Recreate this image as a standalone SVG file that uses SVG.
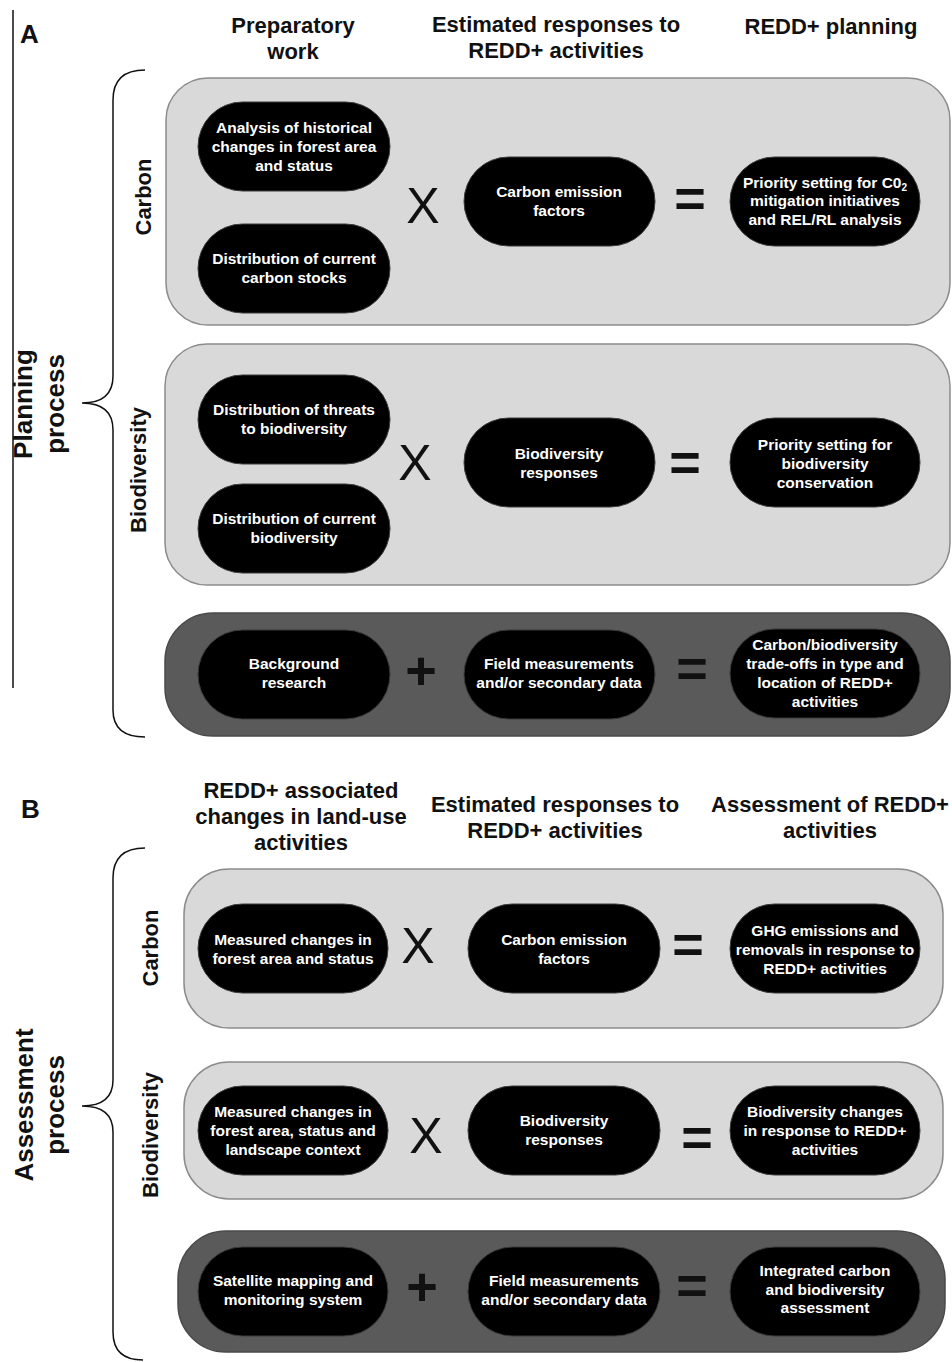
<svg xmlns="http://www.w3.org/2000/svg" width="952" height="1362" viewBox="0 0 952 1362">
<style>
.hdr{font-family:"Liberation Sans",Arial,sans-serif;font-weight:bold;font-size:22px;fill:#111;text-anchor:middle}
.lbl{font-family:"Liberation Sans",Arial,sans-serif;font-weight:bold;font-size:26px;fill:#111}
.side{font-family:"Liberation Sans",Arial,sans-serif;font-weight:bold;font-size:22px;fill:#111;text-anchor:middle}
.proc{font-family:"Liberation Sans",Arial,sans-serif;font-weight:bold;font-size:26px;fill:#111;text-anchor:middle}
.light{fill:#d9d9d9;stroke:#8c8c8c;stroke-width:1.5}
.dark{fill:#5a5a5a;stroke:#4a4a4a;stroke-width:1.5}
.pill{fill:#000;stroke:#3a3a3a;stroke-width:1}
.pt{font-family:"Liberation Sans",Arial,sans-serif;font-weight:bold;font-size:15.5px;fill:#fff;text-anchor:middle}
.op{font-family:"Liberation Sans",Arial,sans-serif;font-size:50px;fill:#111;text-anchor:middle}
.opb{font-family:"Liberation Sans",Arial,sans-serif;font-weight:bold;font-size:54px;fill:#111;text-anchor:middle}
.brace{fill:none;stroke:#111;stroke-width:1.5}
</style>

<!-- ===== Part A ===== -->
<g id="partA-labels">
  <line x1="13" y1="10" x2="13" y2="688" stroke="#111" stroke-width="1.5"/>
  <text class="lbl" x="20" y="43">A</text>
  <text class="hdr" x="293" y="33">Preparatory</text>
  <text class="hdr" x="293" y="59">work</text>
  <text class="hdr" x="556" y="32">Estimated responses to</text>
  <text class="hdr" x="556" y="58">REDD+ activities</text>
  <text class="hdr" x="831" y="34">REDD+ planning</text>
  <text class="proc" transform="translate(32,404) rotate(-90)">Planning</text>
  <text class="proc" transform="translate(64,404) rotate(-90)">process</text>
</g>

<g id="braces">
  <path class="brace" d="M145,70 Q113,70 113,100 L113,376 Q113,403 82,403 Q113,403 113,430 L113,710 Q113,737 145,737"/>
  <path class="brace" d="M145,848 Q113,848 113,878 L113,1080 Q113,1106 82,1106 Q113,1106 113,1132 L113,1332 Q113,1360 143,1360"/>
</g>

<g id="panelA-carbon">
  <rect class="light" x="166" y="78" width="784" height="247" rx="42"/>
  <text class="side" transform="translate(151,197) rotate(-90)">Carbon</text>
</g>
<g id="A-carbon-analysis">
  <rect class="pill" x="198" y="102" width="192" height="89" rx="44.5"/>
  <text class="pt" x="294" y="133">Analysis of historical</text>
  <text class="pt" x="294" y="152">changes in forest area</text>
  <text class="pt" x="294" y="171">and status</text>
</g>
<g id="A-carbon-stocks">
  <rect class="pill" x="198" y="224" width="192" height="89" rx="44.5"/>
  <text class="pt" x="294" y="264">Distribution of current</text>
  <text class="pt" x="294" y="283">carbon stocks</text>
</g>
<g id="A-carbon-factors">
  <rect class="pill" x="464" y="157" width="191" height="89" rx="44.5"/>
  <text class="pt" x="559" y="197">Carbon emission</text>
  <text class="pt" x="559" y="216">factors</text>
</g>
<g id="A-carbon-priority">
  <rect class="pill" x="730" y="157" width="190" height="89" rx="44.5"/>
  <text class="pt" x="825" y="188">Priority setting for C0<tspan font-size="10px" dy="3">2</tspan></text>
  <text class="pt" x="825" y="206">mitigation initiatives</text>
  <text class="pt" x="825" y="225">and REL/RL analysis</text>
</g>

<g id="panelA-biodiversity">
  <rect class="light" x="165" y="344" width="785" height="241" rx="42"/>
  <text class="side" transform="translate(146,470) rotate(-90)">Biodiversity</text>
</g>
<g id="A-bio-threats">
  <rect class="pill" x="198" y="375" width="192" height="89" rx="44.5"/>
  <text class="pt" x="294" y="415">Distribution of threats</text>
  <text class="pt" x="294" y="434">to biodiversity</text>
</g>
<g id="A-bio-current">
  <rect class="pill" x="198" y="484" width="192" height="89" rx="44.5"/>
  <text class="pt" x="294" y="524">Distribution of current</text>
  <text class="pt" x="294" y="543">biodiversity</text>
</g>
<g id="A-bio-responses">
  <rect class="pill" x="464" y="418" width="191" height="89" rx="44.5"/>
  <text class="pt" x="559" y="459">Biodiversity</text>
  <text class="pt" x="559" y="478">responses</text>
</g>
<g id="A-bio-priority">
  <rect class="pill" x="730" y="418" width="190" height="89" rx="44.5"/>
  <text class="pt" x="825" y="450">Priority setting for</text>
  <text class="pt" x="825" y="469">biodiversity</text>
  <text class="pt" x="825" y="488">conservation</text>
</g>

<g id="panelA-integration">
  <rect class="dark" x="165" y="613" width="785" height="123" rx="48"/>
</g>
<g id="A-background">
  <rect class="pill" x="198" y="630" width="192" height="89" rx="44.5"/>
  <text class="pt" x="294" y="669">Background</text>
  <text class="pt" x="294" y="688">research</text>
</g>
<g id="A-field">
  <rect class="pill" x="464" y="630" width="191" height="89" rx="44.5"/>
  <text class="pt" x="559" y="669">Field measurements</text>
  <text class="pt" x="559" y="688">and/or secondary data</text>
</g>
<g id="A-tradeoffs">
  <rect class="pill" x="730" y="629" width="190" height="89" rx="44.5"/>
  <text class="pt" x="825" y="650">Carbon/biodiversity</text>
  <text class="pt" x="825" y="669">trade-offs in type and</text>
  <text class="pt" x="825" y="688">location of REDD+</text>
  <text class="pt" x="825" y="707">activities</text>
</g>

<!-- ===== Part B ===== -->
<g id="partB-labels">
  <text class="lbl" x="21" y="818">B</text>
  <text class="hdr" x="301" y="798">REDD+ associated</text>
  <text class="hdr" x="301" y="824">changes in land-use</text>
  <text class="hdr" x="301" y="850">activities</text>
  <text class="hdr" x="555" y="812">Estimated responses to</text>
  <text class="hdr" x="555" y="838">REDD+ activities</text>
  <text class="hdr" x="830" y="812">Assessment of REDD+</text>
  <text class="hdr" x="830" y="838">activities</text>
  <text class="proc" transform="translate(33,1105) rotate(-90)">Assessment</text>
  <text class="proc" transform="translate(64,1105) rotate(-90)">process</text>
</g>

<g id="panelB-carbon">
  <rect class="light" x="184" y="869" width="759" height="159" rx="45"/>
  <text class="side" transform="translate(158,948) rotate(-90)">Carbon</text>
</g>
<g id="B-carbon-measured">
  <rect class="pill" x="198" y="904" width="190" height="89" rx="44.5"/>
  <text class="pt" x="293" y="945">Measured changes in</text>
  <text class="pt" x="293" y="964">forest area and status</text>
</g>
<g id="B-carbon-factors">
  <rect class="pill" x="468" y="904" width="192" height="89" rx="44.5"/>
  <text class="pt" x="564" y="945">Carbon emission</text>
  <text class="pt" x="564" y="964">factors</text>
</g>
<g id="B-carbon-ghg">
  <rect class="pill" x="730" y="904" width="190" height="89" rx="44.5"/>
  <text class="pt" x="825" y="936">GHG emissions and</text>
  <text class="pt" x="825" y="955">removals in response to</text>
  <text class="pt" x="825" y="974">REDD+ activities</text>
</g>

<g id="panelB-biodiversity">
  <rect class="light" x="184" y="1062" width="759" height="137" rx="45"/>
  <text class="side" transform="translate(158,1135) rotate(-90)">Biodiversity</text>
</g>
<g id="B-bio-measured">
  <rect class="pill" x="198" y="1086" width="190" height="89" rx="44.5"/>
  <text class="pt" x="293" y="1117">Measured changes in</text>
  <text class="pt" x="293" y="1136">forest area, status and</text>
  <text class="pt" x="293" y="1155">landscape context</text>
</g>
<g id="B-bio-responses">
  <rect class="pill" x="468" y="1086" width="192" height="89" rx="44.5"/>
  <text class="pt" x="564" y="1126">Biodiversity</text>
  <text class="pt" x="564" y="1145">responses</text>
</g>
<g id="B-bio-changes">
  <rect class="pill" x="730" y="1086" width="190" height="89" rx="44.5"/>
  <text class="pt" x="825" y="1117">Biodiversity changes</text>
  <text class="pt" x="825" y="1136">in response to REDD+</text>
  <text class="pt" x="825" y="1155">activities</text>
</g>

<g id="panelB-integration">
  <rect class="dark" x="178" y="1231" width="767" height="121" rx="48"/>
</g>
<g id="B-satellite">
  <rect class="pill" x="198" y="1247" width="190" height="89" rx="44.5"/>
  <text class="pt" x="293" y="1286">Satellite mapping and</text>
  <text class="pt" x="293" y="1305">monitoring system</text>
</g>
<g id="B-field">
  <rect class="pill" x="468" y="1247" width="192" height="89" rx="44.5"/>
  <text class="pt" x="564" y="1286">Field measurements</text>
  <text class="pt" x="564" y="1305">and/or secondary data</text>
</g>
<g id="B-integrated">
  <rect class="pill" x="730" y="1247" width="190" height="89" rx="44.5"/>
  <text class="pt" x="825" y="1276">Integrated carbon</text>
  <text class="pt" x="825" y="1295">and biodiversity</text>
  <text class="pt" x="825" y="1313">assessment</text>
</g>

<g id="connectors">
  <text class="op" x="423" y="223">X</text>
  <text class="opb" x="690" y="217">=</text>
  <text class="op" x="415" y="480">X</text>
  <text class="opb" x="685" y="481">=</text>
  <text class="opb" x="421" y="689">+</text>
  <text class="opb" x="692" y="687">=</text>
  <text class="op" x="418" y="963">X</text>
  <text class="opb" x="688" y="963">=</text>
  <text class="op" x="426" y="1153">X</text>
  <text class="opb" x="697" y="1156">=</text>
  <text class="opb" x="422" y="1305">+</text>
  <text class="opb" x="692" y="1304">=</text>
</g>
</svg>
